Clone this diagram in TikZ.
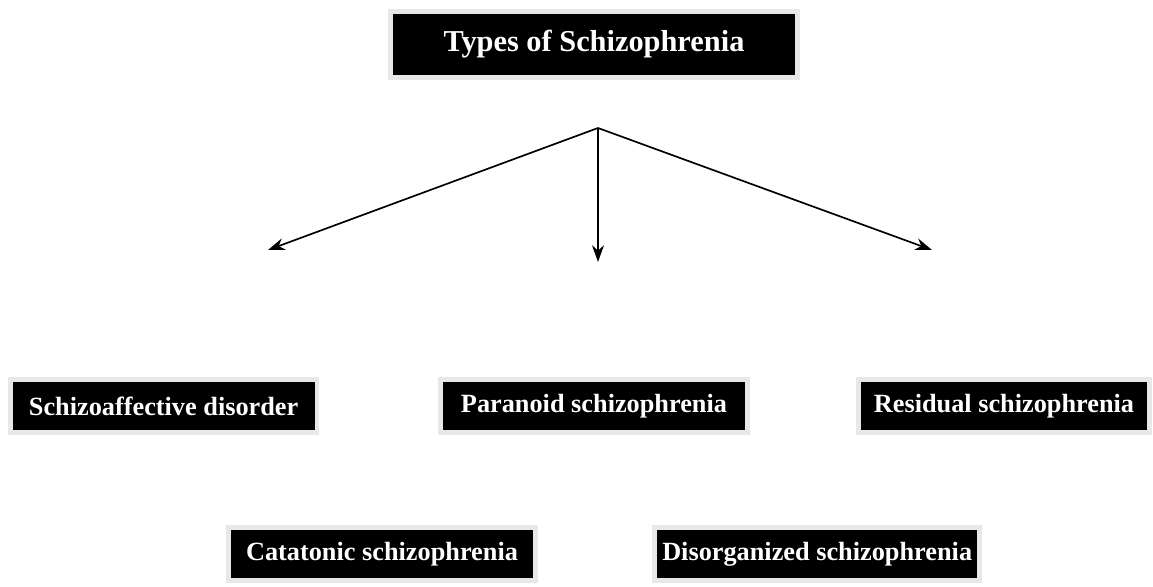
\documentclass[tikz,border=0pt]{standalone}
\usepackage{fontspec}
\setmainfont{Liberation Serif}
\usetikzlibrary{arrows.meta,positioning}

\begin{document}
\begin{tikzpicture}

% Define styles
\tikzstyle{typebox} = [rectangle, fill=black, draw=black!9, line width=0.12cm, text=white, text centered, minimum width=7.67cm, minimum height=1.32cm, font=\fontsize{18.7}{21}\selectfont\bfseries]
\tikzstyle{titlebox} = [typebox, minimum width=10.17cm, minimum height=1.64cm, font=\fontsize{21.6}{24}\selectfont\bfseries]
\tikzstyle{arrow} = [line width=1.2pt, ->, >={Stealth[length=0.42cm, width=0.3cm]}]

\useasboundingbox (0,0) rectangle (28.825,-14.675);

% TITLE
\node (types) [titlebox] at (14.85,-1.11) {Types of Schizophrenia};

% ARROWS from the title
\coordinate (hub) at (14.95,-3.2);
\coordinate (leftend) at (6.7,-6.25);
\coordinate (midend) at (14.95,-6.55);
\coordinate (rightend) at (23.3,-6.25);
\draw [arrow] (hub) -- (leftend);
\draw [arrow] (hub) -- (midend);
\draw [arrow] (hub) -- (rightend);

% TYPES - Row 1
\node (schizoaffective) [typebox] at (4.09,-10.15) {Schizoaffective disorder};
\node (paranoid) [typebox] at (14.85,-10.15) {Paranoid schizophrenia};
\node (residual) [typebox, minimum width=7.27cm] at (25.1,-10.15) {Residual schizophrenia};

% TYPES - Row 2
\node (catatonic) [typebox] at (9.55,-13.85) {Catatonic schizophrenia};
\node (disorganized) [typebox, minimum width=8.12cm] at (20.43,-13.85) {Disorganized schizophrenia};

\end{tikzpicture}
\end{document}
